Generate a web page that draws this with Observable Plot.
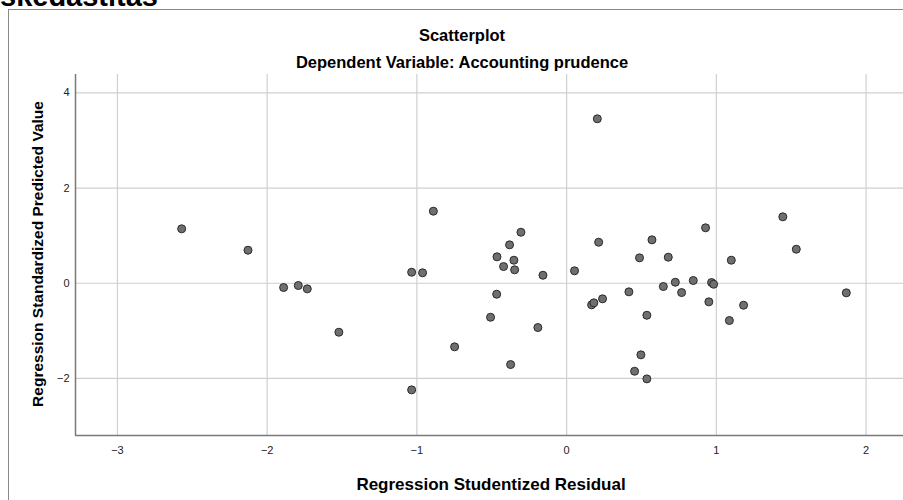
<!DOCTYPE html>
<html>
<head>
<meta charset="utf-8">
<script src="https://cdn.jsdelivr.net/npm/d3@7"></script>
<script src="https://cdn.jsdelivr.net/npm/@observablehq/plot@0.6"></script>
<style>
  html, body { margin: 0; padding: 0; background: #fff; }
  #wrap { position: relative; width: 903px; height: 500px; overflow: hidden; font-family: "Liberation Sans", Arial, sans-serif; }
  .t { position: absolute; white-space: nowrap; color: #000; }
  #frame { position: absolute; left: 8px; top: 9px; width: 1000px; height: 600px; border-left: 1px solid #8a8a8a; border-top: 1px solid #8a8a8a; }
  #plot { position: absolute; left: 0; top: 0; }
</style>
</head>
<body>
<div id="wrap">
  <div class="t" id="cut" style="left:0; top:-18px; font-size:29px; font-weight:bold; line-height:29px;">skedastitas</div>
  <div id="frame"></div>
  <div id="plot"></div>
  <div class="t" id="title" style="left:462px; top:26px; transform:translateX(-50%); font-size:16.5px; font-weight:bold;">Scatterplot</div>
  <div class="t" id="subtitle" style="left:462px; top:53px; transform:translateX(-50%); font-size:16.5px; font-weight:bold;">Dependent Variable: Accounting prudence</div>
  <div class="t" id="xlabel" style="left:491px; top:475px; transform:translateX(-50%); font-size:17px; font-weight:bold;">Regression Studentized Residual</div>
  <div class="t" id="ylabel" style="left:38px; top:254px; transform:translate(-50%,-50%) rotate(-90deg); font-size:15.5px; font-weight:bold;">Regression Standardized Predicted Value</div>
</div>
<script>
const residual = [-2.571,-2.128,-1.890,-1.792,-1.732,-1.521,-1.035,-0.962,-0.890,-1.035,
  -0.748,-0.465,-0.421,-0.381,-0.352,-0.347,-0.305,-0.467,-0.508,-0.374,
  -0.192,-0.158,0.053,0.205,0.214,0.167,0.182,0.240,0.416,0.454,
  0.496,0.536,0.536,0.487,0.570,0.646,0.679,0.726,0.768,0.846,
  0.928,0.950,0.968,0.982,1.087,1.100,1.182,1.444,1.534,1.868];
const predicted = [1.144,0.694,-0.090,-0.048,-0.118,-1.030,0.231,0.219,1.514,-2.241,
  -1.337,0.555,0.351,0.807,0.484,0.282,1.072,-0.231,-0.715,-1.709,
  -0.931,0.168,0.261,3.456,0.862,-0.454,-0.412,-0.328,-0.181,-1.850,
  -1.505,-2.010,-0.673,0.534,0.912,-0.069,0.547,0.021,-0.196,0.057,
  1.165,-0.391,0.015,-0.021,-0.784,0.484,-0.462,1.396,0.715,-0.202];
const xTicks = [-3,-2,-1,0,1,2];
const yTicks = [-2,0,2,4];
const xDomain = [-3.28, 2.25];
const yDomain = [-3.20, 4.387];

const data = residual.map((r, i) => ({x: r, y: predicted[i]}));

const chart = Plot.plot({
  width: 903,
  height: 500,
  marginLeft: 75,
  marginTop: 74,
  marginBottom: 65,
  marginRight: 0,
  style: {fontFamily: "Liberation Sans, Arial, sans-serif", background: "transparent"},
  x: {domain: xDomain, ticks: xTicks, label: null},
  y: {domain: yDomain, ticks: yTicks, label: null},
  marks: [
    Plot.gridX(xTicks, {stroke: "#cfcfcf", strokeOpacity: 1, strokeWidth: 1.2}),
    Plot.gridY(yTicks, {stroke: "#cfcfcf", strokeOpacity: 1, strokeWidth: 1.2}),
    Plot.ruleX([xDomain[0]], {stroke: "#7a7a7a", strokeWidth: 1.5}),
    Plot.ruleY([yDomain[0]], {stroke: "#7a7a7a", strokeWidth: 1.5}),
    Plot.axisX(xTicks, {tickSize: 0, tickPadding: 11, fontSize: 11, fill: "#222", label: null, tickFormat: "d"}),
    Plot.axisY(yTicks, {tickSize: 0, tickPadding: 6, fontSize: 11, fill: "#222", label: null, tickFormat: "d"}),
    Plot.dot(data, {x: "x", y: "y", r: 4, fill: "#6f6f6f", stroke: "#2a2a2a", strokeWidth: 1})
  ]
});
document.getElementById("plot").appendChild(chart);
</script>
</body>
</html>
